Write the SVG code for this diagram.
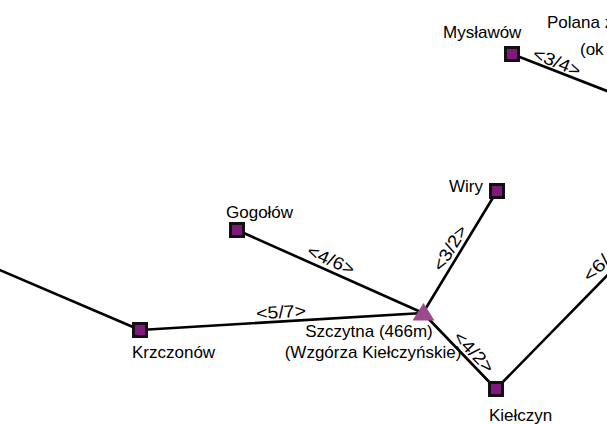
<svg xmlns="http://www.w3.org/2000/svg" width="607" height="424" viewBox="0 0 607 424">
<style>
text{font-family:"Liberation Sans",Arial,sans-serif;font-size:17px;fill:#000}
.e{stroke:#000;stroke-width:2.6;fill:none;stroke-linecap:round}
.n{fill:#7d1a7a;stroke:#111;stroke-width:3}
.t{fill:#9a4a8c}
.c{text-anchor:middle}
.l{font-size:17.5px}
</style>
<rect width="607" height="424" fill="#fff"/>
<g id="connectors">
<path class="e" d="M512,54 L625,98"/>
<path class="e" d="M-5,268 L140,330"/>
<path class="e" d="M140,330 L423,313"/>
<path class="e" d="M237,230 L423,313"/>
<path class="e" d="M497,191 L423,313"/>
<path class="e" d="M423,313 L496,389"/>
<path class="e" d="M496,389 L640,242"/>
<text class="c l" transform="translate(557,62) rotate(22)" y="6" textLength="50" lengthAdjust="spacingAndGlyphs">&lt;3/4&gt;</text>
<text class="c l" transform="translate(281,312) rotate(-3.4)" y="6" textLength="50" lengthAdjust="spacingAndGlyphs">&lt;5/7&gt;</text>
<text class="c l" transform="translate(331,260) rotate(24)" y="6" textLength="50" lengthAdjust="spacingAndGlyphs">&lt;4/6&gt;</text>
<text class="c l" transform="translate(450,248) rotate(-58.8)" y="6" textLength="50" lengthAdjust="spacingAndGlyphs">&lt;3/2&gt;</text>
<text class="c l" transform="translate(474,352) rotate(46)" y="6" textLength="50" lengthAdjust="spacingAndGlyphs">&lt;4/2&gt;</text>
<text class="l" transform="translate(590,283) rotate(-45.5)" textLength="30" lengthAdjust="spacingAndGlyphs">&lt;6/</text>
</g>
<g id="myslakow">
<rect class="n" x="505.5" y="47.5" width="13" height="13"/>
<text x="443" y="38">Mysławów</text>
</g>
<g id="polana">
<text x="547" y="28">Polana z</text>
<text x="580" y="55">(ok</text>
</g>
<g id="wiry">
<rect class="n" x="490.5" y="184.5" width="13" height="13"/>
<text x="483" y="192" text-anchor="end">Wiry</text>
</g>
<g id="gogolow">
<rect class="n" x="230.5" y="223.5" width="13" height="13"/>
<text x="226" y="218">Gogołów</text>
</g>
<g id="krzczonow">
<rect class="n" x="133.5" y="323.5" width="13" height="13"/>
<text x="132" y="358">Krzczonów</text>
</g>
<g id="szczytna">
<polygon class="t" points="423.5,303 412.5,320.5 434.5,320.5"/>
<text class="c" x="369" y="337">Szczytna (466m)</text>
<text class="c" x="373" y="358">(Wzgórza Kiełczyńskie)</text>
</g>
<g id="kielczyn">
<rect class="n" x="489.5" y="382.5" width="13" height="13"/>
<text x="489" y="421">Kiełczyn</text>
</g>
</svg>
